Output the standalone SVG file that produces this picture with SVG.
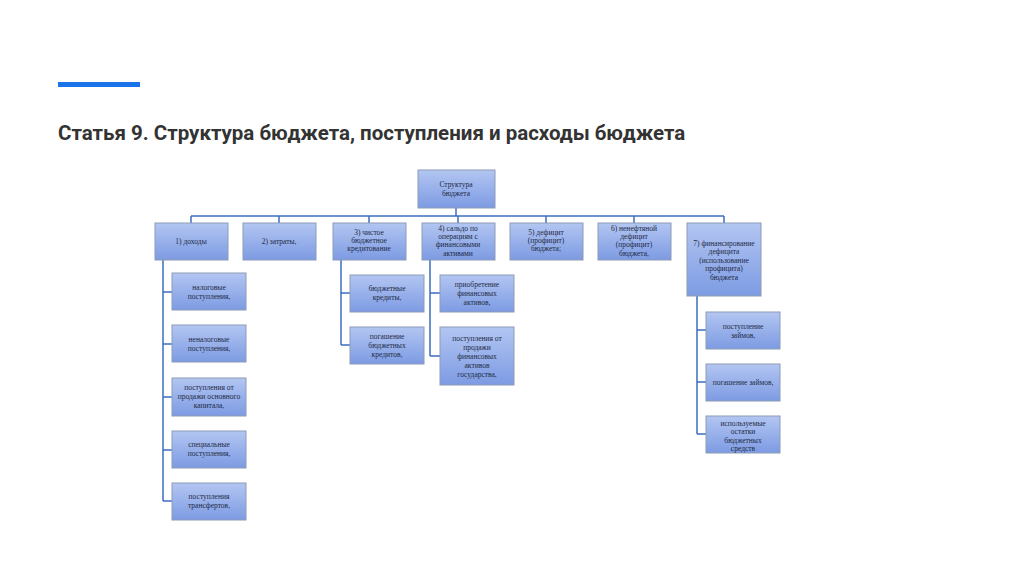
<svg xmlns="http://www.w3.org/2000/svg" width="1024" height="574" viewBox="0 0 1024 574">
<defs>
<linearGradient id="g" x1="0" y1="0" x2="0" y2="1"><stop offset="0" stop-color="#b3c6f2"/><stop offset="1" stop-color="#7d9be3"/></linearGradient>
<style>
.b{fill:url(#g);stroke:#8c9bb5;stroke-width:1}
.t{font-family:"Liberation Serif",serif;font-size:7.5px;fill:#1e2a44;text-anchor:middle}
.c{fill:none;stroke:#3d6dc0;stroke-width:1.5}
</style>
</defs>
<rect width="1024" height="574" fill="#fff"/>
<rect x="58" y="82" width="82" height="5" fill="#1a73e8"/>
<text x="58" y="140" font-family="Roboto,'Liberation Sans',sans-serif" font-weight="bold" font-size="20.5" fill="#333">Статья 9. Структура бюджета, поступления и расходы бюджета</text>
<g id="connectors">
<path class="c" d="M456 208V216M191 216H724M191 216V223M279 216V223M369 216V223M458 216V223M546 216V223M634 216V223M724 216V223"/>
<path class="c" d="M163 260V501M163 292H172M163 344H172M163 397H172M163 450H172M163 501H172"/>
<path class="c" d="M341 260V345M341 293H350M341 345H350"/>
<path class="c" d="M430 260V356M430 293H440M430 356H440"/>
<path class="c" d="M697 296V434M697 330H706M697 382H706M697 434H706"/>
</g>
<g id="root"><rect class="b" x="418" y="170" width="77" height="38"/><text class="t" x="456" y="187">Структура</text><text class="t" x="456" y="196">бюджета</text></g>
<g id="n1"><rect class="b" x="155" y="223" width="73" height="37"/><text class="t" x="191" y="244">1) доходы</text></g>
<g id="n2"><rect class="b" x="243" y="223" width="73" height="37"/><text class="t" x="279" y="244">2) затраты,</text></g>
<g id="n3"><rect class="b" x="333" y="223" width="73" height="37"/><text class="t" x="369" y="235">3) чистое</text><text class="t" x="369" y="243">бюджетное</text><text class="t" x="369" y="251">кредитование</text></g>
<g id="n4"><rect class="b" x="422" y="223" width="73" height="37"/><text class="t" x="458" y="231">4) сальдо по</text><text class="t" x="458" y="239">операциям с</text><text class="t" x="458" y="247">финансовыми</text><text class="t" x="458" y="256">активами</text></g>
<g id="n5"><rect class="b" x="510" y="223" width="73" height="37"/><text class="t" x="546" y="235">5) дефицит</text><text class="t" x="546" y="243">(профицит)</text><text class="t" x="546" y="251">бюджета;</text></g>
<g id="n6"><rect class="b" x="598" y="223" width="73" height="37"/><text class="t" x="634" y="231">6) ненефтяной</text><text class="t" x="634" y="239">дефицит</text><text class="t" x="634" y="247">(профицит)</text><text class="t" x="634" y="256">бюджета,</text></g>
<g id="n7"><rect class="b" x="687" y="223" width="74" height="73"/><text class="t" x="724" y="246">7) финансирование</text><text class="t" x="724" y="254">дефицита</text><text class="t" x="724" y="263">(использование</text><text class="t" x="724" y="271">профицита)</text><text class="t" x="724" y="280">бюджета</text></g>
<g id="n1a"><rect class="b" x="172" y="273" width="74" height="37"/><text class="t" x="209" y="290">налоговые</text><text class="t" x="209" y="299">поступления,</text></g>
<g id="n1b"><rect class="b" x="172" y="325" width="74" height="37"/><text class="t" x="209" y="342">неналоговые</text><text class="t" x="209" y="351">поступления,</text></g>
<g id="n1c"><rect class="b" x="172" y="378" width="74" height="38"/><text class="t" x="209" y="390">поступления от</text><text class="t" x="209" y="399">продажи основного</text><text class="t" x="209" y="408">капитала,</text></g>
<g id="n1d"><rect class="b" x="172" y="431" width="74" height="37"/><text class="t" x="209" y="447">специальные</text><text class="t" x="209" y="456">поступления,</text></g>
<g id="n1e"><rect class="b" x="172" y="483" width="74" height="37"/><text class="t" x="209" y="499">поступления</text><text class="t" x="209" y="508">трансфертов,</text></g>
<g id="n3a"><rect class="b" x="350" y="275" width="74" height="37"/><text class="t" x="387" y="291">бюджетные</text><text class="t" x="387" y="300">кредиты,</text></g>
<g id="n3b"><rect class="b" x="350" y="327" width="74" height="37"/><text class="t" x="387" y="339">погашение</text><text class="t" x="387" y="348">бюджетных</text><text class="t" x="387" y="357">кредитов,</text></g>
<g id="n4a"><rect class="b" x="440" y="275" width="74" height="37"/><text class="t" x="477" y="287">приобретение</text><text class="t" x="477" y="296">финансовых</text><text class="t" x="477" y="305">активов,</text></g>
<g id="n4b"><rect class="b" x="440" y="327" width="74" height="58"/><text class="t" x="477" y="341">поступления от</text><text class="t" x="477" y="350">продажи</text><text class="t" x="477" y="359">финансовых</text><text class="t" x="477" y="368">активов</text><text class="t" x="477" y="377">государства,</text></g>
<g id="n7a"><rect class="b" x="706" y="312" width="74" height="37"/><text class="t" x="743" y="329">поступление</text><text class="t" x="743" y="338">займов,</text></g>
<g id="n7b"><rect class="b" x="706" y="364" width="74" height="37"/><text class="t" x="743" y="385">погашение займов,</text></g>
<g id="n7c"><rect class="b" x="706" y="416" width="74" height="37"/><text class="t" x="743" y="426">используемые</text><text class="t" x="743" y="434">остатки</text><text class="t" x="743" y="443">бюджетных</text><text class="t" x="743" y="451">средств</text></g>
</svg>
